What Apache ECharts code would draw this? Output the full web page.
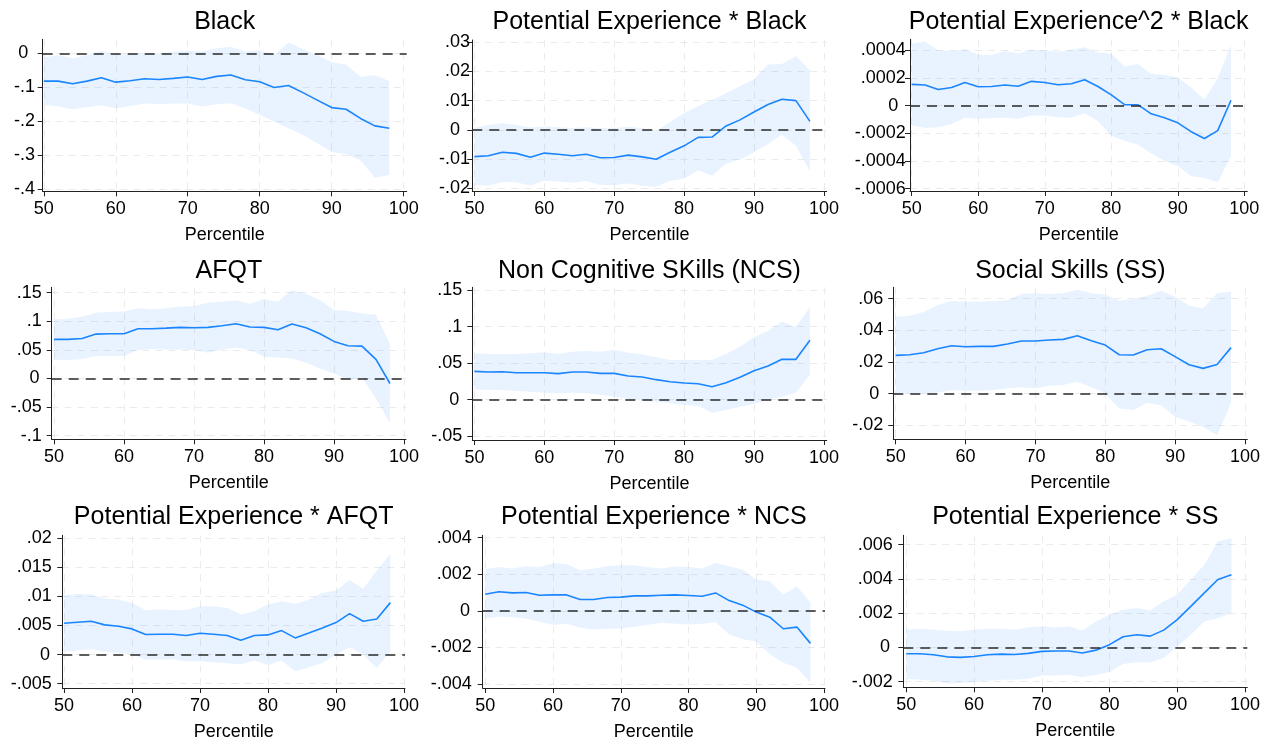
<!DOCTYPE html>
<html><head><meta charset="utf-8">
<script src="https://cdn.jsdelivr.net/npm/echarts@6/dist/echarts.min.js"></script>
<style>html,body{margin:0;padding:0;background:#fff}#c{width:1276px;height:745px}</style>
</head><body><div id="c"></div>
<script>
// ---------------- DATA ----------------
const percentiles = [50,52,54,56,58,60,62,64,66,68,70,72,74,76,78,80,82,84,86,88,90,92,94,96,98];
const xTickLabels = ['50','60','70','80','90','100'];
const xAxisName = 'Percentile';
const panelTitles = [
  'Black', 'Potential Experience * Black', 'Potential Experience^2 * Black',
  'AFQT', 'Non Cognitive SKills (NCS)', 'Social Skills (SS)',
  'Potential Experience * AFQT', 'Potential Experience * NCS', 'Potential Experience * SS'
];
const yTickLabelsBlack   = ['-.4','-.3','-.2','-.1','0'];
const yTickLabelsPEBlack = ['-.02','-.01','0','.01','.02','.03'];
const yTickLabelsPE2Black= ['-.0006','-.0004','-.0002','0','.0002','.0004'];
const yTickLabelsAFQT    = ['-.1','-.05','0','.05','.1','.15'];
const yTickLabelsNCS     = ['-.05','0','.05','.1','.15'];
const yTickLabelsSS      = ['-.02','0','.02','.04','.06'];
const yTickLabelsPEAFQT  = ['-.005','0','.005','.01','.015','.02'];
const yTickLabelsPENCS   = ['-.004','-.002','0','.002','.004'];
const yTickLabelsPESS    = ['-.002','0','.002','.004','.006'];

const blackCoef  = [-0.082,-0.082,-0.090,-0.082,-0.072,-0.085,-0.081,-0.075,-0.077,-0.074,-0.070,-0.077,-0.068,-0.064,-0.078,-0.084,-0.101,-0.095,-0.116,-0.138,-0.160,-0.165,-0.192,-0.214,-0.221];
const blackUpper = [-0.012,-0.005,-0.015,-0.005,0.007,-0.003,-0.002,0.002,0.000,0.004,0.008,0.005,0.015,0.019,0.005,0.010,-0.005,0.032,0.012,-0.006,-0.026,-0.033,-0.069,-0.065,-0.082];
const blackLower = [-0.152,-0.157,-0.165,-0.159,-0.153,-0.162,-0.155,-0.148,-0.150,-0.148,-0.148,-0.157,-0.150,-0.147,-0.162,-0.182,-0.201,-0.221,-0.241,-0.265,-0.291,-0.297,-0.316,-0.367,-0.359];

const peBlackCoef  = [-0.0092,-0.0089,-0.0077,-0.0081,-0.0094,-0.0080,-0.0084,-0.0089,-0.0084,-0.0096,-0.0095,-0.0087,-0.0093,-0.0101,-0.0077,-0.0055,-0.0026,-0.0025,0.0013,0.0034,0.0061,0.0087,0.0105,0.0100,0.0029];
const peBlackUpper = [0.0007,0.0016,0.0022,0.0016,0.0008,0.0011,0.0009,0.0006,0.0009,0.0005,0.0006,0.0010,0.0005,-0.0005,0.0027,0.0058,0.0081,0.0102,0.0125,0.0150,0.0173,0.0224,0.0226,0.0253,0.0203];
const peBlackLower = [-0.0190,-0.0192,-0.0179,-0.0180,-0.0192,-0.0175,-0.0177,-0.0182,-0.0176,-0.0189,-0.0189,-0.0184,-0.0192,-0.0195,-0.0175,-0.0167,-0.0139,-0.0158,-0.0116,-0.0102,-0.0076,-0.0049,-0.0016,-0.0055,-0.0142];

const pe2BlackCoef  = [0.000154,0.000149,0.000117,0.000132,0.000168,0.000137,0.000139,0.000149,0.000141,0.000176,0.000168,0.000151,0.000159,0.000188,0.000139,0.000078,0.000007,0.000007,-0.000059,-0.000088,-0.000124,-0.000188,-0.000237,-0.000180,0.000039];
const pe2BlackUpper = [0.000449,0.000463,0.000400,0.000393,0.000410,0.000368,0.000366,0.000393,0.000380,0.000405,0.000400,0.000388,0.000405,0.000422,0.000385,0.000376,0.000283,0.000302,0.000229,0.000222,0.000205,0.000132,0.000044,0.000198,0.000441];
const pe2BlackLower = [-0.000144,-0.000161,-0.000156,-0.000132,-0.000088,-0.000095,-0.000090,-0.000088,-0.000095,-0.000071,-0.000071,-0.000083,-0.000088,-0.000054,-0.000112,-0.000217,-0.000254,-0.000283,-0.000344,-0.000400,-0.000437,-0.000510,-0.000522,-0.000554,-0.000363];

const afqtCoef  = [0.0683,0.0683,0.0700,0.0776,0.0782,0.0782,0.0870,0.0870,0.0881,0.0893,0.0887,0.0893,0.0922,0.0957,0.0899,0.0893,0.0852,0.0952,0.0887,0.0782,0.0648,0.0572,0.0566,0.0333,-0.0088];
const afqtUpper = [0.1033,0.1045,0.1080,0.1150,0.1162,0.1173,0.1226,0.1208,0.1226,0.1255,0.1267,0.1325,0.1343,0.1366,0.1302,0.1390,0.1343,0.1541,0.1477,0.1372,0.1197,0.1179,0.1138,0.1115,0.0601];
const afqtLower = [0.0333,0.0321,0.0339,0.0391,0.0391,0.0391,0.0496,0.0514,0.0508,0.0508,0.0496,0.0449,0.0508,0.0543,0.0496,0.0379,0.0368,0.0350,0.0274,0.0175,0.0088,-0.0029,0.0018,-0.0350,-0.0776];

const ncsCoef  = [0.0388,0.0378,0.0383,0.0369,0.0369,0.0369,0.0356,0.0378,0.0378,0.0360,0.0360,0.0324,0.0310,0.0274,0.0246,0.0228,0.0219,0.0178,0.0233,0.0306,0.0397,0.0461,0.0552,0.0552,0.0812];
const ncsUpper = [0.0634,0.0625,0.0625,0.0625,0.0634,0.0648,0.0625,0.0657,0.0666,0.0657,0.0684,0.0643,0.0620,0.0579,0.0543,0.0543,0.0543,0.0543,0.0625,0.0725,0.0853,0.0939,0.1067,0.0999,0.1263];
const ncsLower = [0.0141,0.0132,0.0132,0.0119,0.0109,0.0096,0.0087,0.0096,0.0087,0.0068,0.0041,0.0009,-0.0014,-0.0027,-0.0050,-0.0073,-0.0087,-0.0178,-0.0141,-0.0096,-0.0059,-0.0005,0.0041,0.0096,0.0342];

const ssCoef  = [0.0242,0.0246,0.0259,0.0284,0.0303,0.0297,0.0299,0.0299,0.0314,0.0333,0.0333,0.0339,0.0343,0.0366,0.0335,0.0307,0.0246,0.0244,0.0278,0.0284,0.0234,0.0183,0.0160,0.0185,0.0291];
const ssUpper = [0.0486,0.0493,0.0516,0.0560,0.0585,0.0581,0.0581,0.0585,0.0592,0.0629,0.0634,0.0629,0.0634,0.0657,0.0634,0.0627,0.0587,0.0598,0.0619,0.0651,0.0613,0.0556,0.0539,0.0634,0.0644];
const ssLower = [0.0002,-0.0002,0.0002,0.0008,0.0023,0.0019,0.0019,0.0023,0.0034,0.0040,0.0034,0.0051,0.0055,0.0076,0.0040,0.0002,-0.0093,-0.0103,-0.0057,-0.0074,-0.0145,-0.0177,-0.0208,-0.0263,-0.0061];

const peAfqtCoef  = [0.00537,0.00554,0.00571,0.00509,0.00486,0.00440,0.00343,0.00349,0.00349,0.00326,0.00366,0.00349,0.00326,0.00246,0.00326,0.00337,0.00411,0.00286,0.00371,0.00457,0.00549,0.00703,0.00571,0.00611,0.00891];
const peAfqtUpper = [0.01017,0.01040,0.01029,0.00960,0.00943,0.00886,0.00760,0.00771,0.00766,0.00766,0.00829,0.00829,0.00800,0.00686,0.00743,0.00857,0.00914,0.00869,0.00943,0.01057,0.01097,0.01274,0.01131,0.01440,0.01726];
const peAfqtLower = [0.00046,0.00069,0.00097,0.00046,0.00029,0.00000,-0.00086,-0.00086,-0.00080,-0.00114,-0.00114,-0.00131,-0.00149,-0.00171,-0.00103,-0.00183,-0.00103,-0.00286,-0.00217,-0.00143,0.00000,0.00126,0.00000,-0.00229,0.00057];

const peNcsCoef  = [0.00091,0.00104,0.00098,0.00100,0.00085,0.00087,0.00087,0.00062,0.00062,0.00073,0.00075,0.00082,0.00082,0.00085,0.00087,0.00084,0.00080,0.00098,0.00056,0.00031,-0.00007,-0.00035,-0.00098,-0.00089,-0.00178];
const peNcsUpper = [0.00229,0.00240,0.00231,0.00244,0.00240,0.00260,0.00256,0.00222,0.00231,0.00244,0.00249,0.00249,0.00238,0.00231,0.00242,0.00240,0.00231,0.00262,0.00244,0.00225,0.00171,0.00162,0.00089,0.00135,0.00044];
const peNcsLower = [-0.00042,-0.00031,-0.00035,-0.00042,-0.00060,-0.00078,-0.00071,-0.00093,-0.00102,-0.00098,-0.00096,-0.00087,-0.00076,-0.00065,-0.00071,-0.00075,-0.00071,-0.00062,-0.00129,-0.00156,-0.00169,-0.00238,-0.00284,-0.00311,-0.00393];

const peSsCoef  = [-0.00037,-0.00037,-0.00043,-0.00055,-0.00058,-0.00053,-0.00043,-0.00039,-0.00041,-0.00035,-0.00023,-0.00021,-0.00021,-0.00033,-0.00016,0.00016,0.00062,0.00074,0.00066,0.00101,0.00162,0.00240,0.00319,0.00397,0.00425];
const peSsUpper = [0.00103,0.00109,0.00103,0.00097,0.00094,0.00103,0.00109,0.00109,0.00103,0.00117,0.00123,0.00117,0.00123,0.00097,0.00152,0.00191,0.00220,0.00230,0.00216,0.00269,0.00308,0.00395,0.00483,0.00619,0.00639];
const peSsLower = [-0.00183,-0.00189,-0.00195,-0.00210,-0.00208,-0.00203,-0.00195,-0.00189,-0.00189,-0.00183,-0.00164,-0.00164,-0.00160,-0.00175,-0.00160,-0.00144,-0.00097,-0.00086,-0.00086,-0.00062,0.00006,0.00074,0.00152,0.00171,0.00201];

// ---------------- LAYOUT / STYLE ----------------
const panels = [
  {coef: blackCoef,   up: blackUpper,   lo: blackLower,   yt: yTickLabelsBlack},
  {coef: peBlackCoef, up: peBlackUpper, lo: peBlackLower, yt: yTickLabelsPEBlack},
  {coef: pe2BlackCoef,up: pe2BlackUpper,lo: pe2BlackLower,yt: yTickLabelsPE2Black},
  {coef: afqtCoef,    up: afqtUpper,    lo: afqtLower,    yt: yTickLabelsAFQT},
  {coef: ncsCoef,     up: ncsUpper,     lo: ncsLower,     yt: yTickLabelsNCS},
  {coef: ssCoef,      up: ssUpper,      lo: ssLower,      yt: yTickLabelsSS},
  {coef: peAfqtCoef,  up: peAfqtUpper,  lo: peAfqtLower,  yt: yTickLabelsPEAFQT},
  {coef: peNcsCoef,   up: peNcsUpper,   lo: peNcsLower,   yt: yTickLabelsPENCS},
  {coef: peSsCoef,    up: peSsUpper,    lo: peSsLower,    yt: yTickLabelsPESS}
];
// plot rectangles (px) and axis extents
const boxes = [
  {L:42.7, T:39.3, R:406.7, B:191.3, x0:49.85, x1:100.42, y0:-0.4068,  y1:0.0413,  lm:7.7,  zp:6.7, tt:10},
  {L:472.3,T:40,   R:826.7, B:191,   x0:49.7,  x1:100.4,  y0:-0.0210,  y1:0.0308,  lm:2.3,  zp:10,  tt:10},
  {L:910,  T:39.3, R:1247.3,B:191,   x0:49.74, x1:100.45, y0:-0.000617,y1:0.00048, lm:4.3,  zp:7.4, tt:10},
  {L:51.7, T:287.3,R:406,   B:439.3, x0:49.67, x1:100.29, y0:-0.1063,  y1:0.1594,  lm:10,   zp:2.3, tt:258.5},
  {L:472.3,T:287.3,R:826.7, B:440,   x0:49.7,  x1:100.4,  y0:-0.0551,  y1:0.1537,  lm:10,   zp:3,   tt:258.5},
  {L:893.3,T:287.3,R:1247.3,B:439.3, x0:49.66, x1:100.33, y0:-0.0288,  y1:0.0672,  lm:10,   zp:4,   tt:258.5},
  {L:62.3, T:535.3,R:405,   B:688,   x0:49.75, x1:100.15, y0:-0.00574, y1:0.02046, lm:10.6, zp:1.7, tt:504.5},
  {L:482.7,T:535.3,R:825,   B:688,   x0:49.62, x1:100.15, y0:-0.00422, y1:0.00413, lm:11,   zp:1.7, tt:504.5},
  {L:903.3,T:535.3,R:1247.3,B:687.3, x0:49.56, x1:100.34, y0:-0.00233, y1:0.00655, lm:10.6, zp:2.7, tt:504.5}
];

const FONT = '"Liberation Sans", Arial, Helvetica, sans-serif';
const LINE_COLOR = '#1a85ff';
const BAND_COLOR = 'rgba(26,133,255,0.10)';
const GRID_COLOR = '#ebebeb';
const AXIS_COLOR = '#222';

const xTickValues = xTickLabels.map(parseFloat);

const option = {
  animation: false,
  backgroundColor: '#ffffff',
  title: [], grid: [], xAxis: [], yAxis: [], series: []
};

panels.forEach((p, i) => {
  const b = boxes[i];
  const yVals = p.yt.map(parseFloat);
  option.title.push({
    text: panelTitles[i],
    left: (b.L + b.R) / 2, top: b.tt, textAlign: 'center', padding: 0,
    textStyle: {fontFamily: FONT, fontSize: 25, fontWeight: 'normal', color: '#000'}
  });
  option.grid.push({
    left: b.L, top: b.T, width: b.R - b.L, height: b.B - b.T,
    containLabel: false, outerBoundsMode: 'none', show: false
  });
  option.xAxis.push({
    type: 'value', gridIndex: i, min: b.x0, max: b.x1,
    name: xAxisName, nameLocation: 'middle', nameGap: 35,
    nameTextStyle: {fontFamily: FONT, fontSize: 18, color: '#000'},
    axisLine: {show: true, onZero: false, lineStyle: {color: AXIS_COLOR, width: 1}},
    axisTick: {show: true, length: 5, customValues: xTickValues, lineStyle: {color: AXIS_COLOR}},
    axisLabel: {customValues: xTickValues, margin: 9, fontFamily: FONT, fontSize: 18, color: '#000',
      formatter: v => { const k = xTickValues.findIndex(t => Math.abs(t - v) < 1e-9); return k >= 0 ? xTickLabels[k] : ''; }},
    splitLine: {show: true, lineStyle: {color: GRID_COLOR, type: [7, 6], width: 1}}
  });
  option.yAxis.push({
    type: 'value', gridIndex: i, min: b.y0, max: b.y1,
    axisLine: {show: true, onZero: false, lineStyle: {color: AXIS_COLOR, width: 1}},
    axisTick: {show: true, length: 5, customValues: yVals, lineStyle: {color: AXIS_COLOR}},
    axisLabel: {customValues: yVals, margin: b.lm, fontFamily: FONT, fontSize: 18, color: '#000',
      rich: {z: {fontFamily: FONT, fontSize: 18, color: '#000', padding: [0, b.zp, 0, 0]}},
      formatter: v => {
        const k = yVals.findIndex(t => Math.abs(t - v) < Math.abs(yVals[1] - yVals[0]) * 1e-6);
        if (k < 0) return '';
        return yVals[k] === 0 ? '{z|' + p.yt[k] + '}' : p.yt[k];
      }},
    splitLine: {show: true, lineStyle: {color: GRID_COLOR, type: [7, 6], width: 1}}
  });
  // confidence band as one polygon built through the axis scales
  option.series.push({
    type: 'custom', xAxisIndex: i, yAxisIndex: i, silent: true, z: 1,
    data: percentiles.map((x, j) => [x, p.lo[j], p.up[j]]),
    encode: {x: 0, y: [1, 2]},
    renderItem: (params, api) => {
      if (params.dataIndex !== 0) return null;
      const pts = [];
      for (let k = 0; k < percentiles.length; k++) pts.push(api.coord([percentiles[k], p.up[k]]));
      for (let k = percentiles.length - 1; k >= 0; k--) pts.push(api.coord([percentiles[k], p.lo[k]]));
      return {type: 'polygon', shape: {points: pts}, style: {fill: BAND_COLOR, stroke: null}};
    }
  });
  option.series.push({
    type: 'line', xAxisIndex: i, yAxisIndex: i,
    data: percentiles.map((x, j) => [x, p.coef[j]]),
    symbol: 'none', lineStyle: {color: LINE_COLOR, width: 1.6}, itemStyle: {color: LINE_COLOR}, z: 3,
    markLine: {silent: true, symbol: 'none', label: {show: false},
      lineStyle: {color: '#2a2a2a', type: [10, 7], width: 1.5}, data: [{yAxis: 0}]}
  });
});

const chart = echarts.init(document.getElementById('c'), null, {renderer: 'canvas'});
chart.setOption(option);
</script>
</body></html>
